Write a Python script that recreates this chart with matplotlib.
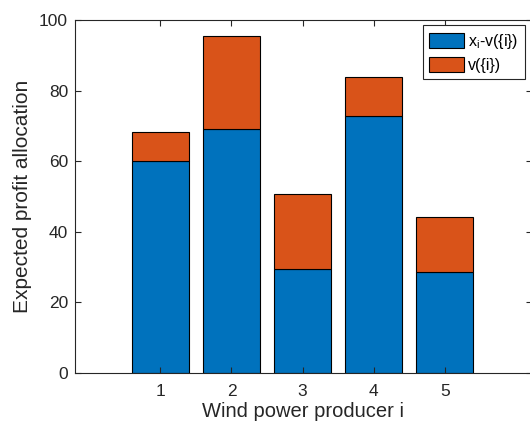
import matplotlib
matplotlib.use('Agg')
import matplotlib.pyplot as plt
import numpy as np

matplotlib.rcParams['font.family'] = ['Liberation Sans', 'DejaVu Sans']
matplotlib.rcParams['mathtext.fontset'] = 'custom'
matplotlib.rcParams['mathtext.rm'] = 'Liberation Sans'

producers = [1, 2, 3, 4, 5]
excess = [60.0, 69.2, 29.5, 72.7, 28.6]      # x_i - v({i})
standalone = [8.3, 26.3, 21.3, 11.1, 15.7]   # v({i})

BLUE = '#0072BD'
ORANGE = '#D95319'
AX = '#262626'

fig = plt.figure(figsize=(5.30, 4.26), dpi=100)
ax = fig.add_axes([75/530, 1 - 373/426, 457/530, 353/426])

x = np.array(producers)
ax.bar(x, excess, 0.8, color=BLUE, edgecolor='black', linewidth=0.8,
       label=r'x$_\mathrm{i}$-v({i})')
ax.bar(x, standalone, 0.8, bottom=excess, color=ORANGE, edgecolor='black',
       linewidth=0.8, label='v({i})')

ax.set_xlim(-0.2, 6.225)
ax.set_ylim(0, 100)
ax.set_xticks(producers)
ax.set_yticks(np.arange(0, 101, 20))
ax.tick_params(direction='in', length=4, width=0.8, colors=AX,
               labelsize=12.5, top=True, right=True, pad=5)
ax.tick_params(axis='x', pad=8)
for s in ax.spines.values():
    s.set_color(AX)
    s.set_linewidth(0.8)
ax.set_xlabel('Wind power producer i', fontsize=14.5, color=AX, labelpad=2)
ax.set_ylabel('Expected profit allocation', fontsize=15, color=AX, labelpad=5)

leg = ax.legend(loc='upper right', bbox_to_anchor=(0.985, 0.985), fontsize=11.5,
                fancybox=False, framealpha=1, handlelength=2.2, handleheight=1.05,
                handletextpad=0.25, borderpad=0.4, labelspacing=0.4,
                borderaxespad=0)
leg.get_frame().set_edgecolor(AX)
leg.get_frame().set_linewidth(0.8)

fig.savefig('out.png', dpi=100)
